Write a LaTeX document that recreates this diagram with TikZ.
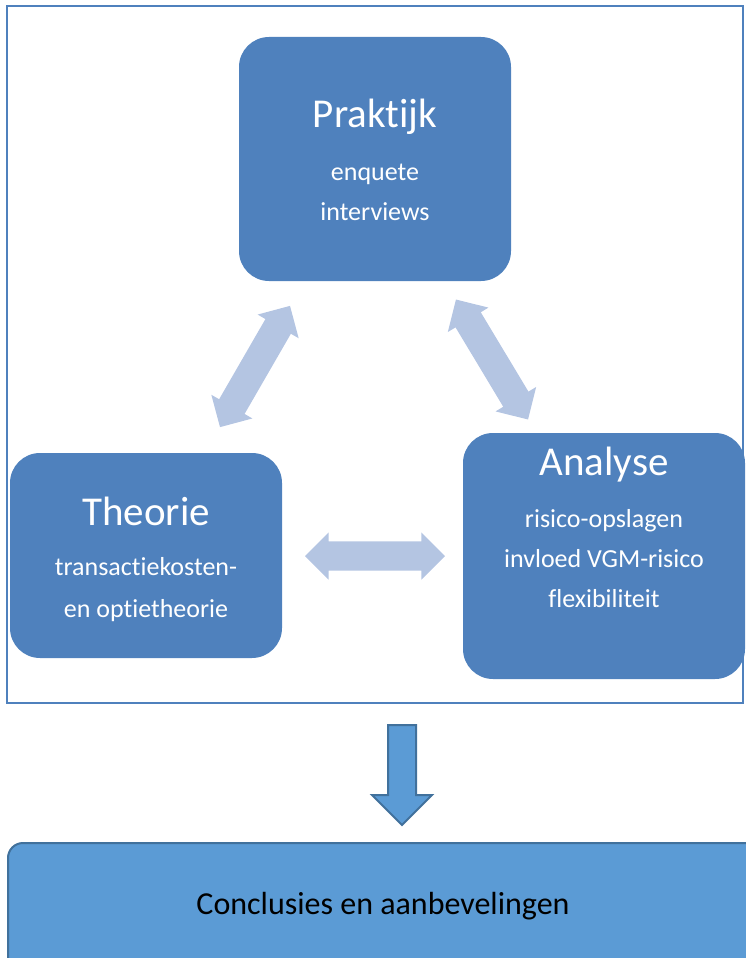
\documentclass[tikz,border=0pt]{standalone}
\usepackage{fontspec}
\setmainfont{Carlito}[Ligatures=NoCommon]
\usetikzlibrary{shapes.arrows,positioning}
\definecolor{vlak}{HTML}{4F81BD}
\definecolor{lichtblauw}{HTML}{B4C5E2}
\definecolor{eind}{HTML}{5B9BD5}
\definecolor{eindrand}{HTML}{41719C}
\begin{document}
\begin{tikzpicture}[x=1pt,y=-1pt,
	blok/.style={fill=vlak, rounded corners=30pt, inner sep=0pt},
	kop/.style={white, font=\fontsize{41}{49}\selectfont, anchor=base, inner sep=0pt},
	regel/.style={white, font=\fontsize{26}{31}\selectfont, anchor=base, inner sep=0pt},
	pijl/.style={double arrow, fill=lichtblauw, inner xsep=0pt, inner ysep=14.5pt,
		double arrow head extend=9pt, double arrow tip angle=90, minimum height=140pt}]
	\useasboundingbox (0,0) rectangle (746,958);
	\clip (0,0) rectangle (746,958);
	
	% kader om de drie onderdelen
	\draw[vlak, line width=1.5pt] (7,6) rectangle (743,703);
	
	\node[blok, minimum width=272pt, minimum height=244pt] (praktijk) at (375,159) {};
	\node[blok, minimum width=272pt, minimum height=205pt] (theorie) at (146,555.5) {};
	\node[blok, minimum width=282pt, minimum height=246pt] (analyse) at (604,556) {};
	
	\node[kop] (praktijkkop) at (375,127) {Praktijk};
	\node[regel] (enquete) at (375,180) {enquete};
	\node[regel] (interviews) at (375,220) {interviews};
	
	\node[kop] (theoriekop) at (146,525) {Theorie};
	\node[regel] (transactie) at (146,575) {transactiekosten-};
	\node[regel] (optie) at (146,617) {en optietheorie};
	
	\node[kop] (analysekop) at (604,475) {Analyse};
	\node[regel] (opslagen) at (604,527) {risico-opslagen};
	\node[regel] (vgm) at (604,567) {invloed VGM-risico};
	\node[regel] (flex) at (604,607) {flexibiliteit};
	
	% wisselwerking tussen de onderdelen
	\node[pijl, rotate=60] (pijlTP) at (255,366.5) {};
	\node[pijl, rotate=-59] (pijlPA) at (492,359.5) {};
	\node[pijl] (pijlTA) at (375,556) {};
	
	% naar de conclusies
	\node[single arrow, fill=eind, draw=eindrand, line width=2pt, inner xsep=0pt, inner ysep=13pt,
		single arrow head extend=16pt, single arrow tip angle=90, minimum height=100pt,
		rotate=-90] (naar) at (402,768) {};
	
	\node[fill=eind, draw=eindrand, line width=2pt, rounded corners=15pt, inner sep=0pt,
		minimum width=752pt, minimum height=132pt] (conclusies) at (384,909) {};
	\node[anchor=base, inner sep=0pt, font=\fontsize{32}{38}\selectfont] (conclusiestekst) at (383,914) {Conclusies en aanbevelingen};
\end{tikzpicture}
\end{document}
